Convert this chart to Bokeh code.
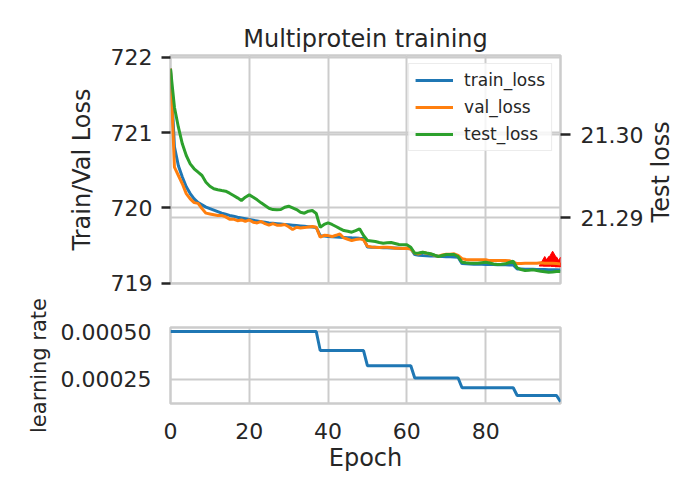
import math
from bokeh.plotting import figure
from bokeh.models import (Range1d, LinearAxis, FixedTicker, PrintfTickFormatter,
                          Grid, Label)
from bokeh.layouts import column, row
from bokeh.embed import file_html
from bokeh.resources import INLINE

# ---------------- data ----------------
epochs = list(range(100))

train_loss = [
    721.85, 720.81, 720.56, 720.41, 720.28, 720.19, 720.12, 720.07, 720.04, 720.01,
    719.99, 719.97, 719.95, 719.93, 719.915, 719.90, 719.89, 719.875, 719.865, 719.855,
    719.845, 719.835, 719.825, 719.815, 719.81, 719.80, 719.795, 719.79, 719.785, 719.78,
    719.775, 719.77, 719.765, 719.76, 719.755, 719.75, 719.745, 719.74, 719.63, 719.625,
    719.62, 719.617, 719.614, 719.611, 719.608, 719.605, 719.602, 719.60, 719.597, 719.595,
    719.48, 719.478, 719.476, 719.474, 719.472, 719.47, 719.468, 719.466, 719.464, 719.462,
    719.46, 719.458, 719.38, 719.372, 719.368, 719.365, 719.362, 719.36, 719.357, 719.355,
    719.352, 719.35, 719.347, 719.345, 719.26, 719.257, 719.255, 719.253, 719.252, 719.25,
    719.249, 719.248, 719.247, 719.246, 719.245, 719.244, 719.243, 719.242, 719.19, 719.188,
    719.186, 719.185, 719.184, 719.183, 719.182, 719.181, 719.18, 719.179, 719.178, 719.175,
]

val_loss = [
    721.85, 720.54, 720.43, 720.32, 720.19, 720.12, 720.07, 720.06, 719.99, 719.93,
    719.92, 719.91, 719.90, 719.90, 719.88, 719.85, 719.85, 719.83, 719.84, 719.82,
    719.84, 719.81, 719.80, 719.82, 719.79, 719.77, 719.79, 719.77, 719.77, 719.78,
    719.75, 719.712, 719.742, 719.734, 719.738, 719.747, 719.752, 719.742, 719.61, 719.636,
    719.632, 719.619, 719.636, 719.654, 719.601, 719.583, 719.566, 719.579, 719.588, 719.575,
    719.49, 719.482, 719.477, 719.473, 719.477, 719.477, 719.473, 719.464, 719.464, 719.46,
    719.464, 719.455, 719.397, 719.389, 719.41, 719.397, 719.389, 719.37, 719.355, 719.375,
    719.385, 719.385, 719.39, 719.37, 719.325, 719.315, 719.31, 719.31, 719.31, 719.31,
    719.313, 719.30, 719.30, 719.30, 719.302, 719.30, 719.298, 719.28, 719.26, 719.26,
    719.264, 719.264, 719.264, 719.266, 719.27, 719.266, 719.264, 719.264, 719.26, 719.256,
]

test_loss = [
    21.30792, 21.30329, 21.30088, 21.29888, 21.29747, 21.29647, 21.29587, 21.29546, 21.29506, 21.29425,
    21.29377, 21.29346, 21.29334, 21.29325, 21.29317, 21.29293, 21.29265, 21.29237, 21.29205, 21.29245,
    21.29273, 21.29245, 21.29213, 21.29177, 21.29145, 21.29112, 21.29096, 21.29093, 21.29096, 21.29124,
    21.29136, 21.29117, 21.29096, 21.29064, 21.29052, 21.29076, 21.29084, 21.29048, 21.28883, 21.28916,
    21.28936, 21.28916, 21.28892, 21.28867, 21.28843, 21.28835, 21.28823, 21.28843, 21.28864, 21.28783,
    21.28723, 21.28717, 21.28711, 21.28699, 21.28690, 21.28695, 21.28699, 21.28687, 21.28675, 21.28672,
    21.28671, 21.28642, 21.28570, 21.28572, 21.28582, 21.28572, 21.28563, 21.28548, 21.28530, 21.28542,
    21.28554, 21.28554, 21.28554, 21.28530, 21.28461, 21.28454, 21.28449, 21.28449, 21.28449, 21.28455,
    21.28461, 21.28452, 21.28440, 21.28434, 21.28437, 21.28442, 21.28458, 21.28473, 21.28392, 21.28373,
    21.28361, 21.28365, 21.28370, 21.28361, 21.28353, 21.28347, 21.28341, 21.28343, 21.28349, 21.28349,
]

learning_rate = [
    0.0005, 0.0005, 0.0005, 0.0005, 0.0005, 0.0005, 0.0005, 0.0005, 0.0005, 0.0005,
    0.0005, 0.0005, 0.0005, 0.0005, 0.0005, 0.0005, 0.0005, 0.0005, 0.0005, 0.0005,
    0.0005, 0.0005, 0.0005, 0.0005, 0.0005, 0.0005, 0.0005, 0.0005, 0.0005, 0.0005,
    0.0005, 0.0005, 0.0005, 0.0005, 0.0005, 0.0005, 0.0005, 0.0005, 0.0004, 0.0004,
    0.0004, 0.0004, 0.0004, 0.0004, 0.0004, 0.0004, 0.0004, 0.0004, 0.0004, 0.0004,
    0.00032, 0.00032, 0.00032, 0.00032, 0.00032, 0.00032, 0.00032, 0.00032, 0.00032, 0.00032,
    0.00032, 0.00032, 0.000256, 0.000256, 0.000256, 0.000256, 0.000256, 0.000256, 0.000256, 0.000256,
    0.000256, 0.000256, 0.000256, 0.000256, 0.0002048, 0.0002048, 0.0002048, 0.0002048, 0.0002048, 0.0002048,
    0.0002048, 0.0002048, 0.0002048, 0.0002048, 0.0002048, 0.0002048, 0.0002048, 0.0002048, 0.00016384, 0.00016384,
    0.00016384, 0.00016384, 0.00016384, 0.00016384, 0.00016384, 0.00016384, 0.00016384, 0.00016384, 0.00016384, 0.000131072,
]

best_epochs = [95, 96, 97, 98, 99]
best_vals = [719.27, 719.27, 719.31, 719.265, 719.26]
best_sizes = [11, 11, 15, 11, 11]

x_ticks = [0, 20, 40, 60, 80]
loss_ticks = [719, 720, 721, 722]
test_ticks = [21.29, 21.30]
lr_ticks = [0.00025, 0.0005]

# ---------------- style ----------------
FONT = "DejaVu Sans"
TXT = "#262626"
GRID = "#cccccc"
BLUE, ORANGE, GREEN = "#1f77b4", "#ff7f0e", "#2ca02c"


def style_axis(ax, ticks, fmt=None, tick_out=0, standoff=8, label_standoff=10,
               label_size="24px"):
    ax.ticker = FixedTicker(ticks=ticks)
    if fmt:
        ax.formatter = PrintfTickFormatter(format=fmt)
    ax.axis_line_color = None
    ax.major_tick_out = tick_out
    ax.major_tick_in = 0
    ax.minor_tick_out = 0
    ax.minor_tick_in = 0
    ax.major_tick_line_color = TXT
    ax.major_tick_line_width = 2.5
    ax.major_label_text_font = FONT
    ax.major_label_text_font_size = "22px"
    ax.major_label_text_color = TXT
    ax.major_label_standoff = standoff
    ax.axis_label_text_font = FONT
    ax.axis_label_text_font_size = label_size
    ax.axis_label_text_font_style = "normal"
    ax.axis_label_text_color = TXT
    ax.axis_label_standoff = label_standoff


shared_x = Range1d(0, 99)
loss_range = Range1d(718.996, 722.023)

# ---------------- top panel ----------------
p1 = figure(width=646, height=296, output_backend="svg", toolbar_location=None,
            x_range=shared_x, y_range=loss_range,
            x_axis_location=None, title="Multiprotein training",
            min_border_left=170, min_border_right=86,
            min_border_top=55, min_border_bottom=13)
p1.extra_y_ranges = {"test": Range1d(21.28205, 21.30952)}
p1.outline_line_color = GRID
p1.outline_line_width = 2.5
p1.background_fill_color = "white"
p1.border_fill_color = "white"

p1.title.align = "center"
p1.title.text_font = FONT
p1.title.text_font_size = "24px"
p1.title.text_font_style = "normal"
p1.title.text_color = TXT
p1.title.standoff = 6

style_axis(p1.yaxis[0], loss_ticks, tick_out=9, standoff=9, label_standoff=12)
p1.yaxis[0].axis_label = "Train/Val Loss"
p1.ygrid[0].ticker = FixedTicker(ticks=loss_ticks)
p1.ygrid[0].grid_line_color = GRID
p1.ygrid[0].grid_line_width = 2

right = LinearAxis(y_range_name="test")
style_axis(right, test_ticks, fmt="%.2f", tick_out=10, standoff=10)
p1.add_layout(right, "right")

p1.add_layout(Grid(dimension=0, ticker=FixedTicker(ticks=x_ticks),
                   grid_line_color=GRID, grid_line_width=2))
p1.add_layout(Grid(dimension=1, y_range_name="test", ticker=FixedTicker(ticks=test_ticks),
                   grid_line_color=GRID, grid_line_width=2))

p1.scatter(best_epochs, best_vals, marker="triangle", size=best_sizes,
           fill_color="red", line_color="red")
p1.line(epochs, train_loss, color=BLUE, line_width=3, legend_label="train_loss")
p1.line(epochs, val_loss, color=ORANGE, line_width=3, legend_label="val_loss")
p1.line(epochs, test_loss, color=GREEN, line_width=3, legend_label="test_loss",
        y_range_name="test")

lg = p1.legend[0]
lg.location = "top_right"
lg.margin = 8
lg.padding = 6
lg.spacing = 7
lg.glyph_width = 38
lg.glyph_height = 20
lg.label_height = 20
lg.label_standoff = 11
lg.label_text_font = FONT
lg.label_text_font_size = "17px"
lg.label_text_color = TXT
lg.border_line_color = "#d9d9d9"
lg.border_line_width = 1.5
lg.background_fill_alpha = 0.8

# ---------------- right-hand axis title (reads bottom-to-top) ----------------
p_lab = figure(width=46, height=296, output_backend="svg", toolbar_location=None,
               x_range=Range1d(0, 1), y_range=Range1d(0, 1),
               x_axis_location=None, y_axis_location=None,
               min_border=0, outline_line_color=None)
p_lab.grid.visible = False
p_lab.background_fill_color = "white"
p_lab.border_fill_color = "white"
p_lab.add_layout(Label(x=0.326, y=0.49, text="Test loss", angle=math.pi / 2,
                       text_align="center", text_baseline="middle",
                       text_font=FONT, text_font_size="24px", text_color=TXT))

# ---------------- bottom panel ----------------
p2 = figure(width=692, height=194, output_backend="svg", toolbar_location=None,
            x_range=shared_x, y_range=Range1d(0.000122, 0.000521),
            min_border_left=170, min_border_right=132,
            min_border_top=31, min_border_bottom=87)
p2.outline_line_color = GRID
p2.outline_line_width = 2.5
p2.background_fill_color = "white"
p2.border_fill_color = "white"

style_axis(p2.xaxis[0], x_ticks, tick_out=0, standoff=19, label_standoff=2)
p2.xaxis[0].axis_label = "Epoch"
style_axis(p2.yaxis[0], lr_ticks, fmt="%.5f", tick_out=0, standoff=19, label_standoff=7,
           label_size="21px")
p2.yaxis[0].axis_label = "learning rate"
for g in (p2.xgrid[0], p2.ygrid[0]):
    g.grid_line_color = GRID
    g.grid_line_width = 2
p2.xgrid[0].ticker = FixedTicker(ticks=x_ticks)
p2.ygrid[0].ticker = FixedTicker(ticks=lr_ticks)

p2.line(epochs, learning_rate, color=BLUE, line_width=3)

layout = column(row(p1, p_lab), p2)
open("out.html", "w").write(file_html(layout, INLINE))
